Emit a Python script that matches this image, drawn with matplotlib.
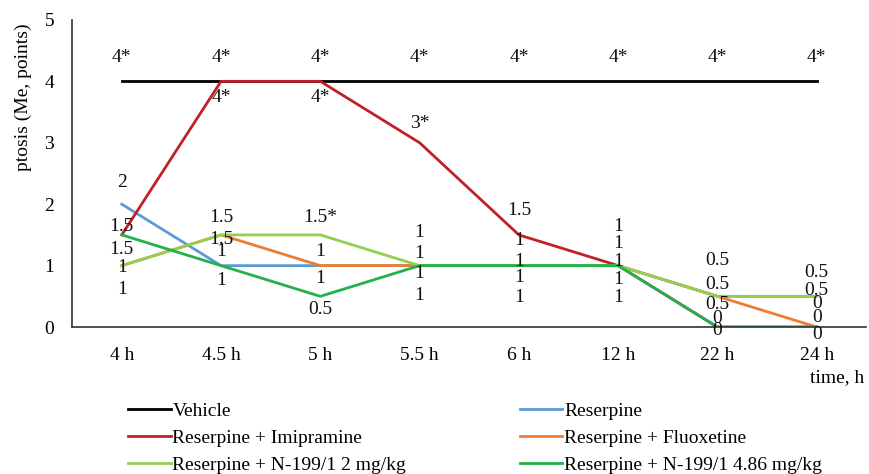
import numpy as np
import matplotlib
matplotlib.use('Agg')
import matplotlib.pyplot as plt

# Time points (categories on the x axis)
times = ['4 h', '4.5 h', '5 h', '5.5 h', '6 h', '12 h', '22 h', '24 h']

# Median ptosis scores
vehicle = [4, 4, 4, 4, 4, 4, 4, 4]
reserpine = [2, 1, 1, 1, 1, 1, 0.5, 0.5]
imipramine = [1.5, 4, 4, 3, 1.5, 1, 0, 0]
fluoxetine = [1, 1.5, 1, 1, 1, 1, 0.5, 0]
n199_2 = [1, 1.5, 1.5, 1, 1, 1, 0.5, 0.5]
n199_486 = [1.5, 1, 0.5, 1, 1, 1, 0, 0]

# Point labels (with significance marks)
vehicle_lbl = ['4*'] * 8
reserpine_lbl = ['2', '1', '1', '1', '1', '1', '0.5', '0.5']
imipramine_lbl = ['1.5', '4*', '4*', '3*', '1.5', '1', '0', '0']
fluoxetine_lbl = ['1', '1.5', '1', '1', '1', '1', '0.5', '0']
n199_2_lbl = ['1', '1.5', '1.5*', '1', '1', '1', '0.5', '0.5']
n199_486_lbl = ['1.5', '1', '0.5', '1', '1', '1', '0', '0']

names = ['Vehicle', 'Reserpine', 'Reserpine + Imipramine', 'Reserpine + Fluoxetine',
         'Reserpine + N-199/1 2 mg/kg', 'Reserpine + N-199/1 4.86 mg/kg']
series = [vehicle, reserpine, imipramine, fluoxetine, n199_2, n199_486]
labels = [vehicle_lbl, reserpine_lbl, imipramine_lbl, fluoxetine_lbl, n199_2_lbl, n199_486_lbl]
colors = ['#000000', '#5B9BD5', '#C0202A', '#ED7D31', '#92D050', '#22B14C']

# label offsets in pixels (positive = up), one row per series
offsets = [
    [24, 24, 24, 24, 24, 24, 24, 24],
    [22, 14, 14, 33, 25, 39, 36, 24],
    [8, -16, -16, 19, 24, 22, 9, 24],
    [-24, -5, -13, 12, 4, 4, 12, 10],
    [-2, 17, 17, -8, -12, -14, -8, 6],
    [-15, -15, -13, -30, -32, -32, -3, -7],
]

plt.rcParams['font.family'] = ['Liberation Serif', 'DejaVu Serif']
FS = 14

fig = plt.figure(figsize=(8.69, 4.74), dpi=100)
ax = fig.add_axes([0.083, 0.310, 0.914, 0.648])

x = np.arange(len(times))
handles = []
for vals, name, col in zip(series, names, colors):
    h, = ax.plot(x, vals, color=col, lw=2, label=name)
    handles.append(h)

for vals, lbls, offs in zip(series, labels, offsets):
    for xi, v, t, o in zip(x, vals, lbls, offs):
        ax.annotate(t, (xi, v), xytext=(0, o), textcoords='offset pixels',
                    ha='center', va='center', fontsize=FS, color='#111111')

ax.set_xlim(-0.5, len(times) - 0.5)
ax.set_ylim(0, 5)
ax.set_xticks(x)
ax.set_xticklabels(times)
ax.set_yticks(range(6))
ax.tick_params(length=0, labelsize=FS, pad=14)
ax.tick_params(axis='y', pad=13)
for s in ['top', 'right']:
    ax.spines[s].set_visible(False)
for s in ['left', 'bottom']:
    ax.spines[s].set_color('#333333')
    ax.spines[s].set_linewidth(1.2)

ax.set_ylabel('ptosis (Me, points)', fontsize=FS)
ax.yaxis.set_label_coords(-0.05, 0.75)
fig.text(0.963, 0.203, 'time, h', ha='center', va='center', fontsize=FS)

leg_kw = dict(loc='upper left', frameon=False, fontsize=FS, handlelength=2.2,
              handletextpad=0.1, labelspacing=0.5, borderaxespad=0, borderpad=0)
fig.legend([handles[i] for i in [0, 2, 4]], [names[i] for i in [0, 2, 4]],
           bbox_to_anchor=(0.147, 0.152), **leg_kw)
fig.legend([handles[i] for i in [1, 3, 5]], [names[i] for i in [1, 3, 5]],
           bbox_to_anchor=(0.598, 0.152), **leg_kw)

fig.savefig('out.png', dpi=100)
